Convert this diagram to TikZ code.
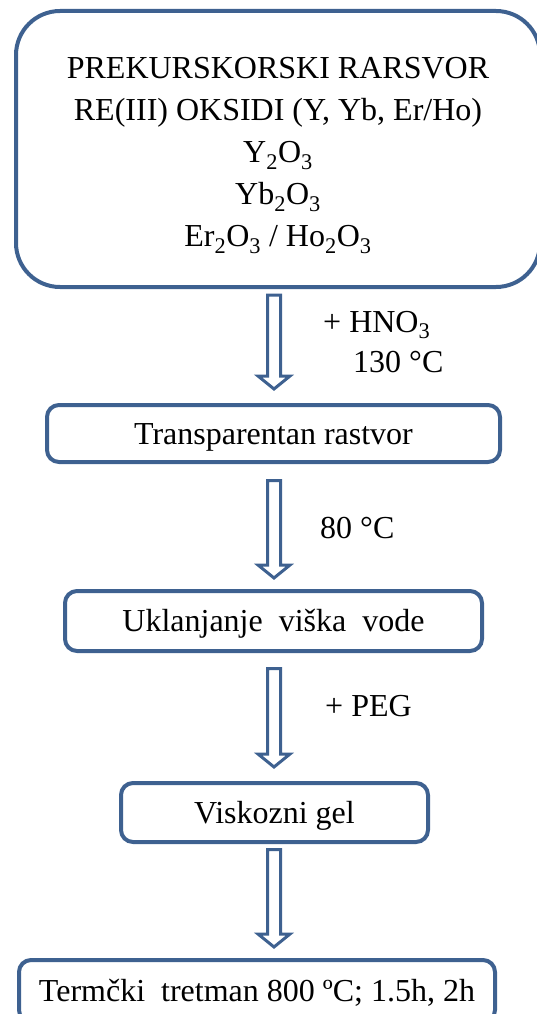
\documentclass[tikz,border=0pt]{standalone}
\usepackage{fontspec}
\setmainfont{Liberation Serif}
\usetikzlibrary{calc}
\definecolor{boxblue}{RGB}{62,97,144}
\tikzset{
  flowbox/.style={draw=boxblue, line width=4pt, rounded corners=12pt, fill=white,
    inner sep=0pt, text height=22pt, text depth=1pt, align=center,
    font=\fontsize{32}{42}\selectfont},
  hollow/.style={draw=boxblue, line width=3pt, fill=white, line join=miter},
  lbl/.style={inner sep=0pt, anchor=base west, font=\fontsize{32}{42}\selectfont}
}
\newcommand\hollowarrow[2]{%
  \draw[hollow] ($(#1)+(-6.5,0)$) -- ($(#2)+(-6.5,-13)$) -- ($(#2)+(-16,-13)$) -- (#2)
    -- ($(#2)+(16,-13)$) -- ($(#2)+(6.5,-13)$) -- ($(#1)+(6.5,0)$) -- cycle;}
\begin{document}
\begin{tikzpicture}[x=1pt,y=-1pt]
\useasboundingbox (0,0) rectangle (537,1014);
\begin{scope}
\clip (0,0) rectangle (537,1014);
% top box
\node[draw=boxblue, line width=4pt, rounded corners=44pt, minimum width=524pt,
      minimum height=276pt, inner sep=0pt] (box1) at (278,149) {};
\node[inner sep=0pt, align=center, font=\fontsize{32}{42}\selectfont] (box1txt) at (278,155.5)
  {PREKURSKORSKI RARSVOR\\
   RE(III) OKSIDI (Y, Yb, Er/Ho)\\
   Y\textsubscript{2}O\textsubscript{3}\\
   Yb\textsubscript{2}O\textsubscript{3}\\
   Er\textsubscript{2}O\textsubscript{3} / Ho\textsubscript{2}O\textsubscript{3}};
\node[flowbox, minimum width=453pt, minimum height=57pt] (box2) at (273.5,433.5) {Transparentan rastvor};
\node[flowbox, minimum width=417pt, minimum height=60pt] (box3) at (273.5,621) {Uklanjanje \ viška \ vode};
\node[flowbox, minimum width=307pt, minimum height=59pt] (box4) at (274.5,812.5) {Viskozni gel};
\node[flowbox, minimum width=476pt, minimum height=62pt] (box5) at (257,991) {Termčki \ tretman 800 ºC; 1.5h, 2h};

% arrows
\coordinate (a1s) at (274,295); \coordinate (a1e) at (274,389);
\coordinate (a2s) at (274,480.5); \coordinate (a2e) at (274,578);
\coordinate (a3s) at (274,668.5); \coordinate (a3e) at (274,767);
\coordinate (a4s) at (274,849.5); \coordinate (a4e) at (274,947);
\hollowarrow{a1s}{a1e}
\hollowarrow{a2s}{a2e}
\hollowarrow{a3s}{a3e}
\hollowarrow{a4s}{a4e}

% labels
\node[lbl] (l1) at (323,332) {+ HNO\textsubscript{3}};
\node[lbl] (l2) at (353,372) {130 °C};
\node[lbl] (l3) at (320,538) {80 °C};
\node[lbl] (l4) at (325,716) {+ PEG};
\end{scope}
\end{tikzpicture}
\end{document}
